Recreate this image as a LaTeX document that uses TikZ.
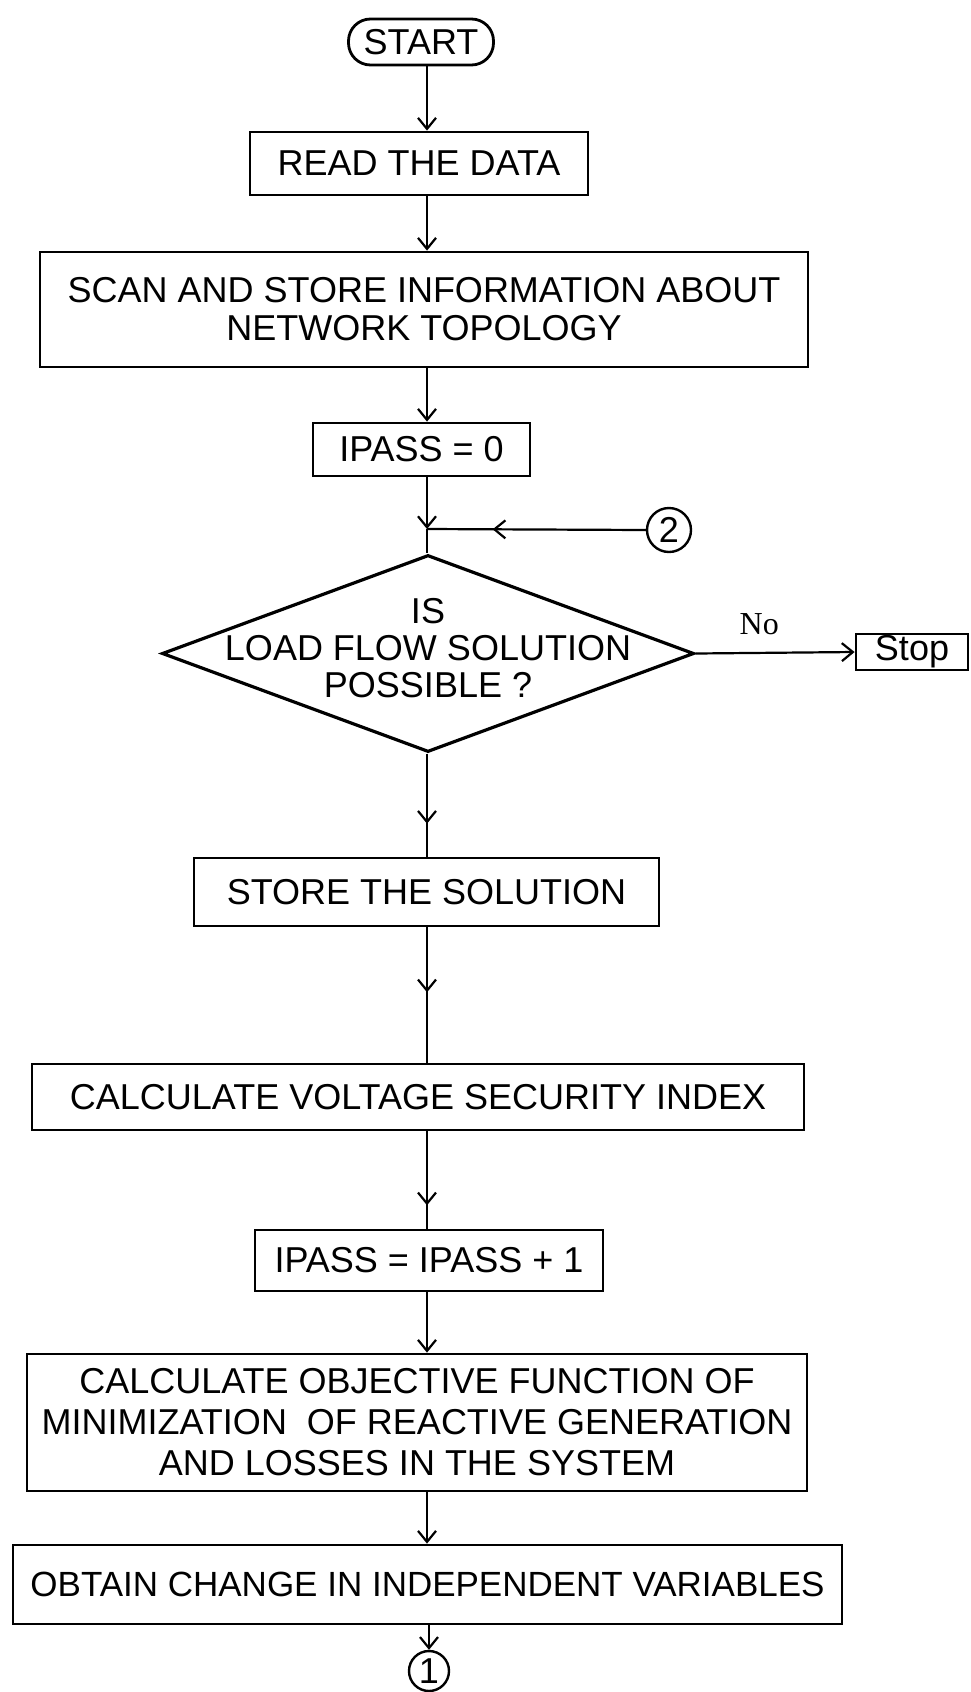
\documentclass[tikz,border=0pt]{standalone}
\usepackage{fontspec}
\setmainfont{Liberation Sans}
\newfontfamily\nofont{Liberation Serif}
\usetikzlibrary{shapes.geometric,arrows.meta,decorations.markings}
\tikzset{
  box/.style={draw, line width=1.4pt, rectangle, inner sep=0pt, align=center,
    font=\fontsize{18}{20}\selectfont},
  conn/.style={line width=1.1pt},
  tipend/.style={conn, -{Straight Barb[length=5.5pt,width=9pt,line width=1.1pt]}},
  midarrow/.style={conn, postaction={decorate}, decoration={markings,
    mark=at position #1 with {\arrow{Straight Barb[length=5.5pt,width=9pt,line width=1.1pt]}}}},
  conncircle/.style={draw, circle, line width=1.2pt, inner sep=0pt,
    font=\fontsize{18}{20}\selectfont}
}
\begin{document}
\begin{tikzpicture}[x=0.5pt,y=-0.5pt]
\useasboundingbox (0,0) rectangle (970,1692);
\coordinate (ax) at (427,0);
\node[box, rounded corners=11pt, minimum width=72.5pt, minimum height=23pt] (start) at (421,42) {START};
\node[box, minimum width=169pt, minimum height=31.5pt] (read) at (419,163.5) {READ THE DATA};
\node[box, minimum width=384pt, minimum height=57.5pt, font=\fontsize{18}{19}\selectfont] (scan) at (424,309.5) {SCAN AND STORE INFORMATION ABOUT\\NETWORK TOPOLOGY};
\node[box, minimum width=108.5pt, minimum height=26.5pt] (ip0) at (421.5,449.5) {IPASS = 0};
\coordinate (j) at (427,529);
\node[conncircle, minimum size=22pt] (c2) at (669,530) {2};
\node[draw, shape=diamond, line width=1.6pt, inner sep=0pt, minimum width=266pt, minimum height=98.5pt] (dia) at (428,653.5) {};
\node[align=center, font=\fontsize{18}{18.5}\selectfont] (diatext) at (428,648) {IS\\LOAD FLOW SOLUTION\\POSSIBLE ?};
\node[box, minimum width=56pt, minimum height=18pt] (stop) at (912,652) {Stop};
\node[box, minimum width=232.5pt, minimum height=34pt] (store) at (426.5,892) {STORE THE SOLUTION};
\node[box, minimum width=386pt, minimum height=33pt] (calcv) at (418,1097) {CALCULATE VOLTAGE SECURITY INDEX};
\node[box, minimum width=174pt, minimum height=30.5pt] (ip1) at (429,1260.5) {IPASS = IPASS + 1};
\node[box, minimum width=390pt, minimum height=68.5pt, font=\fontsize{18}{20.5}\selectfont] (obj) at (417,1422.5) {CALCULATE OBJECTIVE FUNCTION OF\\MINIMIZATION\ \ OF REACTIVE GENERATION\\AND LOSSES IN THE SYSTEM};
\node[box, minimum width=414.5pt, minimum height=39.5pt, font=\fontsize{17.5}{20}\selectfont] (obtain) at (427.5,1584.5) {OBTAIN CHANGE IN INDEPENDENT VARIABLES};
\node[conncircle, minimum size=20pt] (c1) at (429,1671) {1};
% connectors
\draw[tipend] (start.south -| ax) -- (read.north -| ax);
\draw[tipend] (read.south -| ax) -- (scan.north -| ax);
\draw[tipend] (scan.south -| ax) -- (ip0.north -| ax);
\draw[tipend] (ip0.south -| ax) -- (j);
\draw[conn] (j) -- (dia.north -| ax);
\draw[midarrow=0.7] (c2.west) -- (j);
\draw[tipend] (dia.east) -- node[above=5pt, pos=0.4, font=\nofont\fontsize{16}{18}\selectfont] (no) {No} (stop.west);
\draw[midarrow=0.68] (dia.south -| ax) -- (store.north -| ax);
\draw[midarrow=0.48] (store.south -| ax) -- (calcv.north -| ax);
\draw[midarrow=0.76] (calcv.south -| ax) -- (ip1.north -| ax);
\draw[tipend] (ip1.south -| ax) -- (obj.north -| ax);
\draw[tipend] (obj.south -| ax) -- (obtain.north -| ax);
\draw[tipend] (obtain.south -| c1) -- (c1.north);
\end{tikzpicture}
\end{document}
